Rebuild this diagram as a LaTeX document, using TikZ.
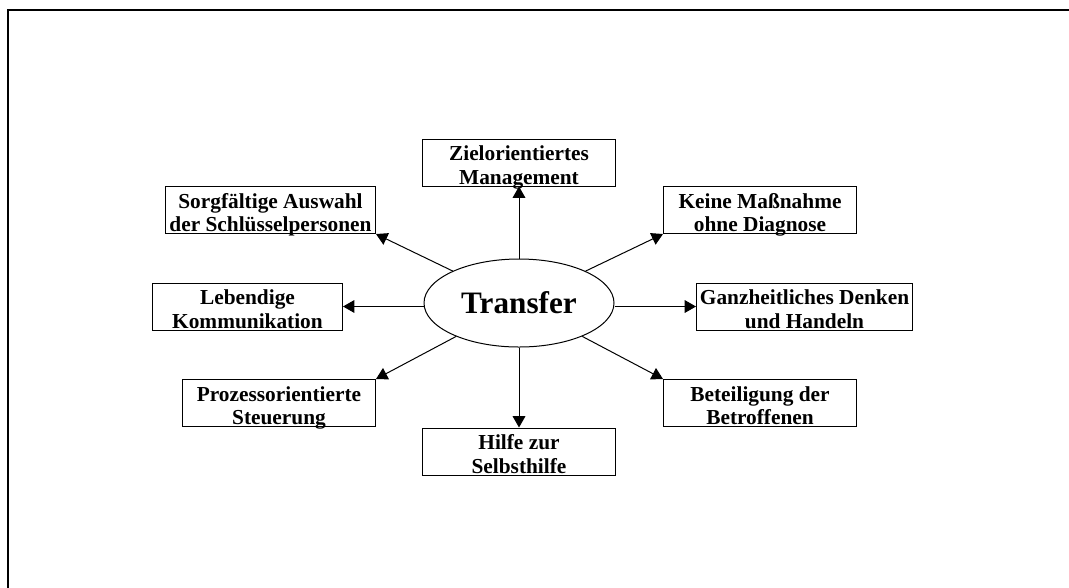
\documentclass[tikz,border=0pt]{standalone}
\usepackage{fontspec}
\setmainfont{Liberation Serif}
\usetikzlibrary{arrows.meta,positioning,shapes.geometric}

\begin{document}
\begin{tikzpicture}[x=0.75pt, y=-0.75pt,
  box/.style={draw, line width=0.75pt, align=center, inner xsep=1pt, inner ysep=0pt, text height=33.75pt, text depth=1.5pt, minimum height=35.25pt, font=\fontsize{16}{17.5}\selectfont\bfseries},
  arr/.style={-{Triangle[length=8.5pt,width=9.5pt]}, line width=0.75pt}
]
\useasboundingbox (0,0) rectangle (1069,587);
\draw[line width=2pt] (8,600) -- (8,10) -- (1080,10);

\node[draw, ellipse, line width=0.75pt, minimum width=142.5pt, minimum height=66pt, font=\fontsize{23.4}{28}\selectfont\bfseries] (tr) at (519,303) {Transfer};

\node[box, minimum width=144.75pt, above=54pt of tr] (ziel) {Zielorientiertes\\Management};
\node[box, minimum width=144.75pt, below=60pt of tr] (hilfe) {Hilfe zur\\Selbsthilfe};
\node[box, minimum width=142.5pt, anchor=east] (leb) at (343,306.5) {Lebendige\\Kommunikation};
\node[box, minimum width=162pt, anchor=west] (ganz) at (696,306.5) {Ganzheitliches Denken\\und Handeln};
\node[box, minimum width=157.5pt, anchor=south east] (sorg) at (376,234) {Sorgfältige Auswahl\\der Schlüsselpersonen};
\node[box, minimum width=144.75pt, anchor=south west] (keine) at (663,234) {Keine Maßnahme\\ohne Diagnose};
\node[box, minimum width=144.75pt, anchor=north east] (proz) at (376,379) {Prozessorientierte\\Steuerung};
\node[box, minimum width=144.75pt, anchor=north west] (bet) at (663,379) {Beteiligung der\\Betroffenen};

\draw[arr] (tr) -- (ziel);
\draw[arr] (tr) -- (hilfe);
\draw[arr] (tr.west |- leb.east) -- (leb.east);
\draw[arr] (tr.east |- ganz.west) -- (ganz.west);
\draw[arr] (tr) -- (sorg.south east);
\draw[arr] (tr) -- (keine.south west);
\draw[arr] (tr) -- (proz.north east);
\draw[arr] (tr) -- (bet.north west);
\end{tikzpicture}
\end{document}
